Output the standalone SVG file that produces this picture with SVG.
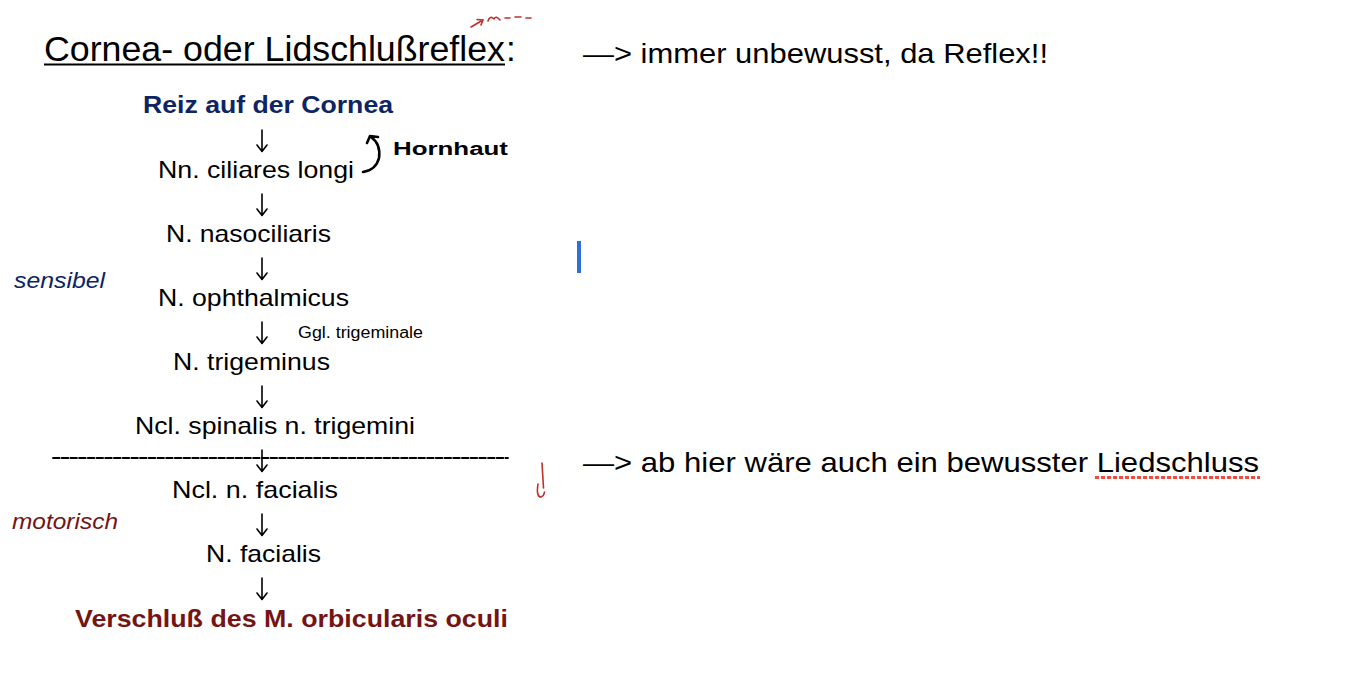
<svg xmlns="http://www.w3.org/2000/svg" width="1354" height="697" viewBox="0 0 1354 697">
<style>
text{font-family:"Liberation Sans",Arial,sans-serif;fill:#000}
.n{font-size:24px}
.b{font-weight:bold;font-size:24px}
.blue{fill:#0d2465}
.red{fill:#741413}
.it{font-style:italic;font-size:22px}
.note{font-size:28px}
.arr{stroke:#000;stroke-width:1.6;fill:none;stroke-linecap:round;stroke-linejoin:round}
.pen{stroke:#c0302a;stroke-width:1.6;fill:none;stroke-linecap:round}
</style>
<defs>
<path id="down" d="M0 -11 V10 M-5 4 L0 10.5 L5 4"/>
</defs>
<rect width="1354" height="697" fill="#fff"/>
<g id="title">
<text x="44" y="61" font-size="35" textLength="461" lengthAdjust="spacingAndGlyphs">Cornea- oder Lidschlußreflex</text>
<text x="506" y="61" font-size="35">:</text>
<line x1="44" y1="64.5" x2="505" y2="64.5" stroke="#000" stroke-width="2"/>
<path class="pen" d="M471 27 L483 20 M477 19.5 L483 20 L481 25 M488 21 Q490 15 494 19 Q496 15 500 20 M505 18 L510 18 M515 17 L521 17 M526 18 L531 18"/>
</g>
<g id="note1"><text class="note" x="583" y="63" textLength="465" lengthAdjust="spacingAndGlyphs">—&gt; immer unbewusst, da Reflex!!</text></g>
<g id="n1"><text class="b blue" x="143" y="113" textLength="250" lengthAdjust="spacingAndGlyphs">Reiz auf der Cornea</text></g>
<g id="n2"><text class="n" x="158" y="178" textLength="196" lengthAdjust="spacingAndGlyphs">Nn. ciliares longi</text></g>
<g id="hornhaut">
<path d="M363 172 Q376 170 379 158 Q381 144 371 137 M367 143 L370 136 L378 137" stroke="#000" stroke-width="2.6" fill="none" stroke-linecap="round" stroke-linejoin="round"/>
<text x="393" y="155" font-family="'DejaVu Sans',sans-serif" font-size="18" font-weight="bold" textLength="115" lengthAdjust="spacingAndGlyphs">Hornhaut</text>
</g>
<g id="n3"><text class="n" x="166" y="242" textLength="165" lengthAdjust="spacingAndGlyphs">N. nasociliaris</text></g>
<g id="n4"><text class="n" x="158" y="306" textLength="191" lengthAdjust="spacingAndGlyphs">N. ophthalmicus</text></g>
<g id="ggl"><text x="298" y="338" font-size="16" textLength="125" lengthAdjust="spacingAndGlyphs">Ggl. trigeminale</text></g>
<g id="n5"><text class="n" x="173" y="370" textLength="157" lengthAdjust="spacingAndGlyphs">N. trigeminus</text></g>
<g id="n6"><text class="n" x="135" y="434" textLength="280" lengthAdjust="spacingAndGlyphs">Ncl. spinalis n. trigemini</text></g>
<g id="n7"><text class="n" x="172" y="498" textLength="166" lengthAdjust="spacingAndGlyphs">Ncl. n. facialis</text></g>
<g id="n8"><text class="n" x="206" y="562" textLength="115" lengthAdjust="spacingAndGlyphs">N. facialis</text></g>
<g id="n9"><text class="b red" x="75" y="627" textLength="433" lengthAdjust="spacingAndGlyphs">Verschluß des M. orbicularis oculi</text></g>
<g id="connectors" class="arr">
<use href="#down" x="262" y="141"/>
<use href="#down" x="262" y="205"/>
<use href="#down" x="262" y="269"/>
<use href="#down" x="262" y="333"/>
<use href="#down" x="262" y="397"/>
<use href="#down" x="262" y="461"/>
<use href="#down" x="262" y="525"/>
<use href="#down" x="262" y="589"/>
<line x1="53" y1="458" x2="508" y2="458" stroke="#000" stroke-width="1.8" stroke-dasharray="6.6 2.1"/>
</g>
<g id="labels">
<text class="it blue" x="14" y="288" textLength="91" lengthAdjust="spacingAndGlyphs">sensibel</text>
<text class="it red" x="12" y="529" textLength="106" lengthAdjust="spacingAndGlyphs">motorisch</text>
</g>
<g id="note2">
<text class="note" x="583" y="472" textLength="676" lengthAdjust="spacingAndGlyphs">—&gt; ab hier wäre auch ein bewusster Liedschluss</text>
<line x1="1095" y1="477.5" x2="1260" y2="477.5" stroke="#ef4b3f" stroke-width="3" stroke-dasharray="4 2"/>
</g>
<path id="excl" class="pen" d="M542 463 L543.5 488 M538 484 Q536 497 541 497 Q544 496 544.5 492"/>
<rect id="cursor" x="577" y="241" width="4" height="32" fill="#2f6fdc"/>
</svg>
